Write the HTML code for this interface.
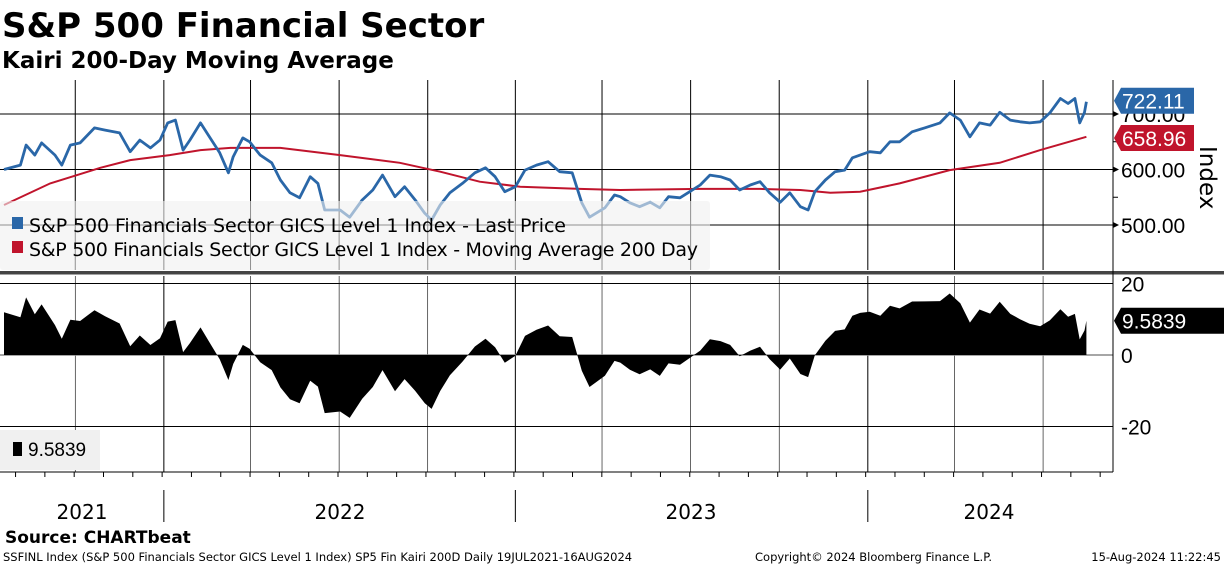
<!DOCTYPE html>
<html><head><meta charset="utf-8"><style>
body{margin:0;background:#fff;width:1224px;height:566px;overflow:hidden}
svg{display:block}
text{font-family:"DejaVu Sans","Liberation Sans",sans-serif}
.lib{font-family:"Liberation Sans",sans-serif}
</style></head><body>
<svg id="c" width="1224" height="566" xmlns="http://www.w3.org/2000/svg">
<text x="2" y="37" font-size="34" font-weight="bold">S&amp;P 500 Financial Sector</text>
<text x="2" y="68" font-size="23" font-weight="bold">Kairi 200-Day Moving Average</text>
<g id="grid"></g>
<g id="top"></g>
<g id="bot"></g>
<g id="axes"></g>
<text x="5" y="543" font-size="17" font-weight="bold">Source: CHARTbeat</text>
<text x="3" y="561" font-size="11.5">SSFINL Index (S&amp;P 500 Financials Sector GICS Level 1 Index) SP5 Fin Kairi 200D  Daily 19JUL2021-16AUG2024</text>
<text x="755" y="561" font-size="11.5">Copyright© 2024 Bloomberg Finance L.P.</text>
<text x="1221" y="561" font-size="11.5" text-anchor="end">15-Aug-2024 11:22:45</text>
</svg>
<script>
const priceDays=[0,17,23,32,39,53,60,69,79,89,94,105,120,131,141,152,162,170,178,186,193,204,214,224,233,238,248,255,266,278,287,297,307,318,326,333,349,359,372,383,393,406,416,427,437,444,453,463,476,489,500,510,520,531,541,553,565,577,590,600,608,624,634,640,650,660,671,681,690,702,712,723,733,744,754,764,775,785,795,806,816,827,835,842,853,863,873,881,889,899,910,920,930,943,956,972,982,993,1003,1013,1024,1034,1045,1055,1065,1076,1086,1097,1105,1112,1117,1122,1124];
const priceVals=[600,608,644,626,648,626,608,644,648,666,675,671,666,632,653,639,653,684,689,635,653,684,657,630,594,623,657,650,626,612,581,558,549,587,575,527,527,514,545,563,590,551,569,545,521,509,536,558,575,594,603,587,560,569,599,608,614,596,594,540,514,531,554,551,540,533,541,531,551,549,560,572,590,587,581,563,572,578,558,541,558,533,527,560,581,596,599,621,626,632,630,650,650,668,675,684,702,689,659,684,680,703,689,686,684,686,702,728,719,728,684,703,722.11];
const maDays=[0,48,100,131,172,204,235,287,349,411,453,494,536,598,640,723,785,827,858,889,930,982,1034,1076,1124];
const maVals=[536,575,603,617,626,635,639,639,626,612,596,578,569,565,563,565,565,563,558,560,575,599,612,635,658.956];
const priceTicks=[500,600,700];
const kairiTicks=[-20,0,20];
const yearLabels=["2021","2022","2023","2024"];
const yearPos=[82,340,691,989];
const gridDays=[74,166,256,348,440,531,621,713,805,897,987,1079];
const sepDays=[166,531,897];

const NS="http://www.w3.org/2000/svg";
const xS=d=>4+d*0.963;
const yP=p=>114+(700-p)*0.555;
const yK=k=>355-k*3.575;
function mk(tag,attrs,parent){const e=document.createElementNS(NS,tag);for(const k in attrs)e.setAttribute(k,attrs[k]);parent.appendChild(e);return e;}
function maAt(d){for(let i=1;i<maDays.length;i++){if(d<=maDays[i]){const t=(d-maDays[i-1])/(maDays[i]-maDays[i-1]);return maVals[i-1]+t*(maVals[i]-maVals[i-1]);}}return maVals[maVals.length-1];}
const kairi=priceDays.map((d,i)=>(priceVals[i]-maAt(d))/maAt(d)*100);

const G=document.getElementById('grid'),T=document.getElementById('top'),B=document.getElementById('bot'),A=document.getElementById('axes');
gridDays.forEach(d=>{
 let l=mk('line',{x1:xS(d),x2:xS(d),y1:80,y2:270,stroke:'#000','stroke-width':1},G);
 
 
 let l2=mk('line',{x1:xS(d),x2:xS(d),y1:276,y2:472,stroke:'#000','stroke-width':sepDays.includes(d)?1:0.6},G);
 
 
});
priceTicks.forEach(p=>{
 let l=mk('line',{x1:0,x2:1113,y1:yP(p),y2:yP(p),stroke:'#000','stroke-width':1},G);
 
 
 let t=mk('text',{x:1121,y:yP(p)+8,'font-size':21,class:'lib'},A);t.textContent=p.toFixed(2);
 
 
 mk('path',{d:`M1113 ${yP(p)-3}L1119 ${yP(p)}L1113 ${yP(p)+3}Z`,fill:'#000'},A);
});
[550,650].forEach(p=>mk('line',{x1:1113,x2:1118,y1:yP(p),y2:yP(p),stroke:'#000'},A));
kairiTicks.forEach(k=>{
 let l=mk('line',{x1:0,x2:1113,y1:yK(k),y2:yK(k),stroke:k===0?'#888':'#000','stroke-width':k===0?1.5:1},G);
 
 
 let t=mk('text',{x:1121,y:yK(k)+8,'font-size':21,class:'lib'},A);t.textContent=String(k);
 
 
});
let mp=maDays.map((d,i)=>(i?'L':'M')+xS(d).toFixed(1)+' '+yP(maVals[i]).toFixed(1)).join('');
let ma=mk('path',{d:mp,fill:'none',stroke:'#c0142c','stroke-width':2},T);


let pp=priceDays.map((d,i)=>(i?'L':'M')+xS(d).toFixed(1)+' '+yP(priceVals[i]).toFixed(1)).join('');
let pl=mk('path',{d:pp,fill:'none',stroke:'#2a67a8','stroke-width':2.8,'stroke-linejoin':'round'},T);


let lg=mk('rect',{x:0,y:201,width:710,height:69,rx:3,fill:'rgba(240,240,240,0.6)'},T);


mk('rect',{x:12,y:217,width:11,height:12,fill:'#2a67a8'},T);
let lt1=mk('text',{x:29,y:232,'font-size':19,textLength:537,fill:'#000'},T);lt1.textContent='S&P 500 Financials Sector GICS Level 1 Index - Last Price';


mk('rect',{x:12,y:241,width:11,height:12,fill:'#c0142c'},T);
let lt2=mk('text',{x:29,y:256,'font-size':19,textLength:669,fill:'#000'},T);lt2.textContent='S&P 500 Financials Sector GICS Level 1 Index - Moving Average 200 Day';


let kp='M'+xS(priceDays[0]).toFixed(1)+' '+yK(0)+priceDays.map((d,i)=>'L'+xS(d).toFixed(1)+' '+yK(kairi[i]).toFixed(1)).join('')+'L'+xS(priceDays[priceDays.length-1]).toFixed(1)+' '+yK(0)+'Z';
let ka=mk('path',{d:kp,fill:'#000'},B);


let kl=mk('rect',{x:0,y:430,width:100,height:40,fill:'#f0f0f0'},B);


mk('rect',{x:13,y:442,width:9,height:14,fill:'#000'},B);
let klt=mk('text',{x:28,y:456,'font-size':19,class:'lib'},B);klt.textContent=kairi[kairi.length-1].toFixed(4);


mk('rect',{x:0,y:271,width:1224,height:3.5,fill:'#444'},A);
mk('line',{x1:1113,x2:1113,y1:80,y2:472,stroke:'#000'},A);
mk('line',{x1:0,x2:1113,y1:472,y2:472,stroke:'#000'},A);
for(let m=0;m<38;m++){const d=12+m*30.44;mk('line',{x1:xS(d),x2:xS(d),y1:472,y2:477,stroke:'#000'},A);}
sepDays.forEach(d=>mk('line',{x1:xS(d),x2:xS(d),y1:490,y2:522,stroke:'#000'},A));
yearLabels.forEach((y,i)=>{
 let t=mk('text',{x:yearPos[i],y:519,'font-size':20,'text-anchor':'middle'},A);t.textContent=y;
 
 });
let ix=mk('text',{x:1200,y:146,'font-size':23,transform:'rotate(90 1200 146)'},A);ix.textContent='Index';


function tag(y,val,fill,w,name){mk('path',{d:`M1114 ${y}L1121 ${y-13}L${1114+w} ${y-13}L${1114+w} ${y+13}L1121 ${y+13}Z`,fill:fill},A);
 let t=mk('text',{x:1122,y:y+8,'font-size':21,fill:'#fff',class:'lib'},A);t.textContent=val;
 
 }
tag(yP(priceVals[priceVals.length-1])-1,priceVals[priceVals.length-1].toFixed(2),'#2a67a8',80,'last-price-tag');
tag(138,maVals[maVals.length-1].toFixed(2),'#c0142c',80,'moving-average-tag');
tag(yK(kairi[kairi.length-1]),kairi[kairi.length-1].toFixed(4),'#000',110,'kairi-value-tag');
</script>
</body></html>
